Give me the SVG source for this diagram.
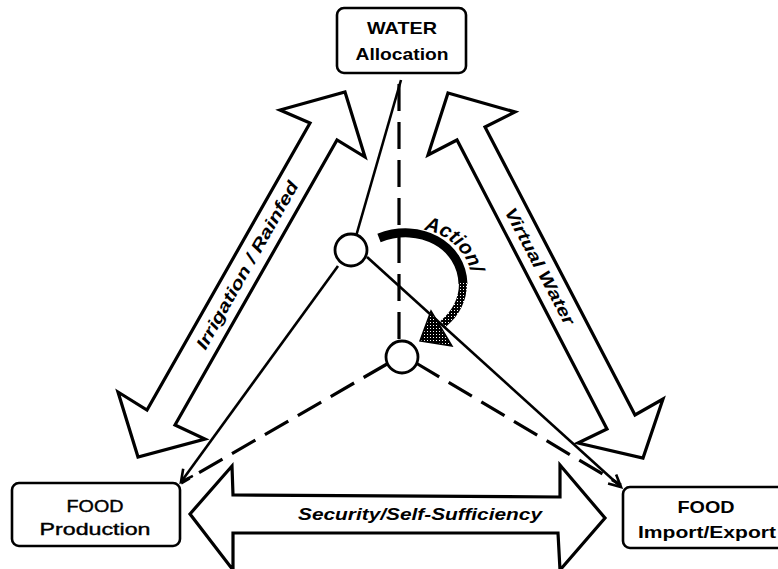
<svg xmlns="http://www.w3.org/2000/svg" width="778" height="569" viewBox="0 0 778 569">
<style>
.box{fill:#fff;stroke:#000;stroke-width:2.6}
.big{fill:#fff;stroke:#000;stroke-width:3.2;stroke-linejoin:miter}
.ln{fill:none;stroke:#000;stroke-width:2.6}
.dash{fill:none;stroke:#000;stroke-width:3.2;stroke-dasharray:27 11}
.hub{fill:#fff;stroke:#000;stroke-width:2.8}
.t{font-family:"Liberation Sans",Arial,sans-serif;font-size:17px;fill:#000;text-anchor:middle}
.b{font-weight:bold}
.m{stroke:#000;stroke-width:0.4}
.it{font-family:"Liberation Sans",Arial,sans-serif;font-size:17px;font-weight:bold;font-style:italic;fill:#000;text-anchor:middle}
</style>
<defs>
<marker id="arr" markerWidth="16" markerHeight="16" refX="13" refY="7" orient="auto" markerUnits="userSpaceOnUse">
<path d="M1,1 L13,7 L1,13" fill="none" stroke="#000" stroke-width="2.6"/>
</marker>
<pattern id="stip" width="3" height="3" patternUnits="userSpaceOnUse">
<rect width="3" height="3" fill="#000"/>
<rect x="1" y="1" width="1" height="1" fill="#fff"/>
</pattern>
<path id="actp" d="M 424,230 A 58 58 0 0 1 473,292"/>
</defs>
<rect width="778" height="569" fill="#fff"/>

<g id="relations">
<g id="arrow-irrigation">
<polygon class="big" points="345,92 365,157 337,140 175,425 205,439 138,457 118,392 147,410 310,123 280,110"/>
<text class="it" transform="translate(247,265) rotate(-60.5)" x="0" y="6" textLength="190" lengthAdjust="spacingAndGlyphs">Irrigation / Rainfed</text>
</g>
<g id="arrow-virtual">
<polygon class="big" points="448,93 515,112 485,127 635,415 663,399 643,458 578,443 607,429 457,140 428,155"/>
<text class="it" transform="translate(540,266) rotate(62)" x="0" y="6" textLength="130" lengthAdjust="spacingAndGlyphs">Virtual Water</text>
</g>
<g id="arrow-security">
<polygon class="big" points="190,514 232,466 233,495 560,497 560,465 605,518 560,570 558,533 233,533 233,570"/>
<text class="it" x="420" y="520" textLength="244" lengthAdjust="spacingAndGlyphs">Security/Self-Sufficiency</text>
</g>
</g>

<g id="connectors">
<line class="ln" x1="401" y1="80" x2="356.5" y2="234.5"/>
<line class="dash" x1="399" y1="84" x2="399" y2="341"/>
<line class="ln" x1="338" y1="266" x2="181" y2="482" marker-end="url(#arr)"/>
<line class="ln" x1="367" y1="257" x2="621" y2="487" marker-end="url(#arr)"/>
<line class="dash" x1="387" y1="364" x2="181" y2="483"/>
<line class="dash" x1="416" y1="363" x2="621" y2="485"/>
</g>

<g id="action">
<path d="M 379,238 C 420,222 462,245 463,284" fill="none" stroke="#000" stroke-width="9"/>
<path d="M 463,283 C 463,300 455,314 443,324" fill="none" stroke="url(#stip)" stroke-width="8"/>
<polygon points="431,311 452,346 420,341" fill="url(#stip)" stroke="#000" stroke-width="1.5"/>
<text style="font-family:'Liberation Sans',Arial,sans-serif;font-size:20px;font-weight:bold;font-style:italic;fill:#000"><textPath href="#actp" startOffset="0">Action/</textPath></text>
</g>

<g id="hub-1"><circle class="hub" cx="351" cy="250" r="16"/></g>
<g id="hub-2"><circle class="hub" cx="402" cy="357" r="16"/></g>

<g id="water">
<rect class="box" x="337" y="8" width="129" height="65" rx="7"/>
<text class="t b" x="402" y="34" textLength="70" lengthAdjust="spacingAndGlyphs">WATER</text>
<text class="t b" x="402" y="60" textLength="93" lengthAdjust="spacingAndGlyphs">Allocation</text>
</g>
<g id="food-production">
<rect class="box" x="12" y="483" width="168" height="63" rx="7"/>
<text class="t m" x="95" y="512" textLength="57" lengthAdjust="spacingAndGlyphs">FOOD</text>
<text class="t m" x="95" y="535" textLength="111" lengthAdjust="spacingAndGlyphs">Production</text>
</g>
<g id="food-trade">
<rect class="box" x="623" y="487" width="200" height="61" rx="7"/>
<text class="t b" x="706" y="513" textLength="57" lengthAdjust="spacingAndGlyphs">FOOD</text>
<text class="t b" x="707" y="538" textLength="138" lengthAdjust="spacingAndGlyphs">Import/Export</text>
</g>
</svg>
